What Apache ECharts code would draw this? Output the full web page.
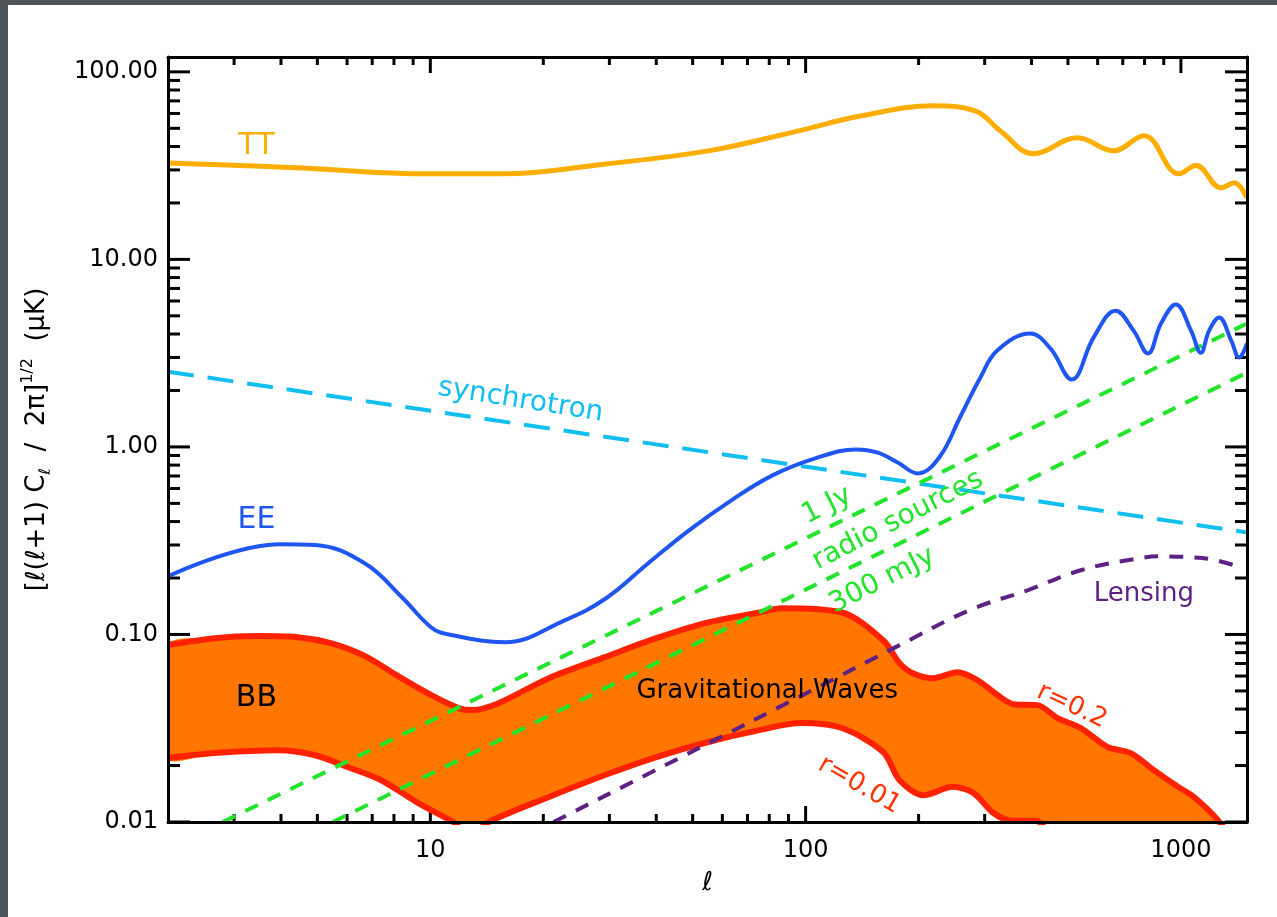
<!DOCTYPE html>
<html>
<head>
<meta charset="utf-8">
<script src="https://cdn.jsdelivr.net/npm/echarts@6/dist/echarts.min.js"></script>
<style>
  html, body { margin: 0; padding: 0; width: 1277px; height: 917px; overflow: hidden; background: #50555a; }
  #panel { position: absolute; left: 8px; top: 5px; right: 0; bottom: 0; background: #ffffff; }
  #chart { position: absolute; left: 0; top: 0; width: 1277px; height: 917px; }
</style>
</head>
<body>
<div id="panel"></div>
<div id="chart"></div>
<script>
// CMB angular power spectra, [l(l+1)C_l/2pi]^(1/2) in microkelvin, versus multipole l.

// Axis tick values
const xMajorTicks = [10, 100, 1000];
const xMinorTicks = [3, 4, 5, 6, 7, 8, 9, 20, 30, 40, 50, 60, 70, 80, 90, 200, 300, 400, 500, 600, 700, 800, 900];
const yMajorTicks = [0.01, 0.1, 1, 10, 100];
const yMinorTicks = [0.02, 0.03, 0.04, 0.05, 0.06, 0.07, 0.08, 0.09,
                     0.2, 0.3, 0.4, 0.5, 0.6, 0.7, 0.8, 0.9,
                     2, 3, 4, 5, 6, 7, 8, 9,
                     20, 30, 40, 50, 60, 70, 80, 90];

// Temperature spectrum [l, value]
const ttCurve = [[2, 32.7], [4.4, 30.8], [10, 28.6], [15.6, 28.6], [29, 32.2], [55, 37.9], [91, 47.3],
  [141, 58.3], [220, 65.9], [283, 62.0], [330, 48.5], [405, 36.6], [530, 44.5], [662, 37.9],
  [797, 45.6], [988, 28.6], [1097, 31.7], [1279, 24.1], [1387, 25.6], [1500, 21.3]];

// E-mode polarisation spectrum
const eeCurve = [[2, 0.204], [4.0, 0.303], [4.93, 0.300], [6.7, 0.239], [8.4, 0.158], [10.06, 0.109],
  [11.2, 0.100], [15.8, 0.091], [22.8, 0.119], [29.4, 0.156], [38, 0.239], [48.9, 0.359], [63.4, 0.519],
  [81.6, 0.705], [106, 0.868], [136, 0.970], [155, 0.935], [176, 0.826], [199, 0.722],
  [227, 0.879], [258, 1.44], [292, 2.34], [324, 3.27], [397, 4.02], [449, 3.35], [512, 2.29],
  [585, 3.83], [670, 5.33], [748, 4.17], [817, 3.15], [885, 4.55], [970, 5.74], [1064, 4.17],
  [1130, 3.18], [1189, 4.17], [1264, 4.90], [1362, 3.69], [1429, 3.00], [1500, 3.56]];

// Foregrounds
const synchrotron = [[2, 2.52], [1500, 0.35]];
const radio1Jy = [[2.8, 0.01], [1500, 4.55]];
const radio300mJy = [[5.5, 0.01], [1500, 2.49]];
const lensing = [[21.3, 0.01], [52, 0.0248], [96, 0.0464], [178, 0.0877], [274, 0.135], [390, 0.172],
  [541, 0.220], [749, 0.252], [885, 0.261], [1064, 0.258], [1203, 0.252], [1386, 0.234]];

// B-mode band from gravitational waves: r = 0.2 (upper) and r = 0.01 (lower)
const bbUpper = [[2, 0.0877], [2.66, 0.0955], [3.47, 0.098], [4.44, 0.0967], [5.43, 0.0898],
  [6.7, 0.0766], [8.21, 0.0599], [10.06, 0.0475], [11.9, 0.0405], [12.9, 0.0395], [15.2, 0.043],
  [20.7, 0.0585], [29.2, 0.0757], [40, 0.0955], [55, 0.116], [75.3, 0.131], [86.3, 0.138],
  [125, 0.131], [161, 0.093], [178, 0.0703], [193, 0.0622], [219, 0.0585], [254, 0.0629],
  [287, 0.057], [330, 0.0464], [357, 0.0425], [415, 0.042], [469, 0.0358], [541, 0.0317],
  [638, 0.0251], [735, 0.0233], [847, 0.0189], [982, 0.0154], [1083, 0.0136], [1256, 0.0102],
  [1500, 0.0062]];
const bbLower = [[2, 0.0219], [2.66, 0.0233], [3.92, 0.0241], [4.93, 0.0227], [6.04, 0.0196],
  [7.4, 0.0167], [9.29, 0.0126], [11.5, 0.01], [12.8, 0.0085], [14.3, 0.01], [20.7, 0.0136],
  [29.2, 0.0178], [40, 0.0222], [55, 0.0267], [75.3, 0.0309], [97.1, 0.0337], [125, 0.0317],
  [161, 0.0236], [178, 0.0167], [206, 0.0139], [247, 0.0154], [280, 0.0143], [316, 0.0112],
  [351, 0.0102], [415, 0.0101], [449, 0.008]];

// Text annotations placed in data coordinates
const annotations = [
  { text: 'TT', at: [3.44, 40.3], color: '#FFAE00', size: 30, angle: 0 },
  { text: 'EE', at: [3.44, 0.407], color: '#1F55F0', size: 30, angle: 0 },
  { text: 'BB', at: [3.44, 0.0457], color: '#000000', size: 30, angle: 0 },
  { text: 'synchrotron', at: [17.4, 1.77], color: '#10BEF0', size: 28, angle: -9 },
  { text: '1 Jy', at: [114, 0.487], color: '#22E42A', size: 28, angle: 27 },
  { text: 'radio sources', at: [176, 0.406], color: '#22E42A', size: 28, angle: 27 },
  { text: '300 mJy', at: [160, 0.194], color: '#22E42A', size: 28, angle: 27 },
  { text: 'Gravitational Waves', at: [79, 0.0499], color: '#000000', size: 26, angle: 0 },
  { text: 'Lensing', at: [797, 0.164], color: '#5E2184', size: 26, angle: 0 },
  { text: 'r=0.2', at: [512, 0.0415], color: '#FF3300', size: 26, angle: -25 },
  { text: 'r=0.01', at: [139, 0.0157], color: '#FF3300', size: 26, angle: -30 }
];

const FONT = 'DejaVu Sans';
const X_MIN = 2, X_MAX = 1500, Y_MIN = 0.01, Y_MAX = 120;

const isDecade = v => { const e = Math.log10(v); return Math.abs(e - Math.round(e)) < 1e-6; };

const tickItems = []
  .concat(xMajorTicks.map(v => ({ axis: 'x', value: v, major: true })))
  .concat(xMinorTicks.map(v => ({ axis: 'x', value: v, major: false })))
  .concat(yMajorTicks.map(v => ({ axis: 'y', value: v, major: true })))
  .concat(yMinorTicks.map(v => ({ axis: 'y', value: v, major: false })));

function renderTick(params, api) {
  const t = tickItems[params.dataIndex];
  const cs = params.coordSys;
  const style = { stroke: '#000', lineWidth: 3 };
  if (t.axis === 'x') {
    const px = api.coord([t.value, 1])[0];
    const len = t.major ? 16 : 8;
    const bottom = cs.y + cs.height;
    return { type: 'group', children: [
      { type: 'line', shape: { x1: px, y1: bottom, x2: px, y2: bottom - len }, style },
      { type: 'line', shape: { x1: px, y1: cs.y, x2: px, y2: cs.y + len }, style }
    ] };
  }
  const py = api.coord([10, t.value])[1];
  const len = t.major ? 22 : 12;
  const right = cs.x + cs.width;
  return { type: 'group', children: [
    { type: 'line', shape: { x1: cs.x, y1: py, x2: cs.x + len, y2: py }, style },
    { type: 'line', shape: { x1: right, y1: py, x2: right - len, y2: py }, style }
  ] };
}

function renderBand(params, api) {
  const pts = bbUpper.map(p => api.coord(p))
    .concat(bbLower.slice().reverse().map(p => api.coord(p)));
  return { type: 'polygon', shape: { points: pts, smooth: 0.3 }, style: { fill: '#FF7700' } };
}

function renderLabel(params, api) {
  const a = annotations[params.dataIndex];
  const p = api.coord(a.at);
  return {
    type: 'text', x: p[0], y: p[1], rotation: a.angle * Math.PI / 180,
    style: { text: a.text, fill: a.color, fontSize: a.size, fontFamily: FONT,
             align: 'center', verticalAlign: 'middle' }
  };
}

function curve(name, data, color, width, dash, z, smooth) {
  return {
    type: 'line', name, data, z, smooth: smooth, showSymbol: false, symbol: 'none',
    clip: true, silent: true,
    lineStyle: { color, width, type: dash || 'solid', cap: 'butt' }
  };
}

const axisLineStyle = { show: true, lineStyle: { color: '#000', width: 3 } };

const option = {
  animation: false,
  backgroundColor: 'transparent',
  grid: { left: 168, top: 57, right: 30, bottom: 95, containLabel: false, outerBoundsMode: 'none' },
  xAxis: [
    {
      type: 'log', logBase: 10, min: X_MIN, max: X_MAX, position: 'bottom', z: 10,
      axisLine: axisLineStyle, axisTick: { show: false }, splitLine: { show: false },
      axisLabel: { margin: 17, fontSize: 24, fontFamily: FONT, color: '#000',
                   formatter: v => isDecade(v) ? String(Math.round(v)) : '' },
      name: 'ℓ', nameLocation: 'middle', nameGap: 48,
      nameTextStyle: { fontSize: 26, fontFamily: FONT, fontStyle: 'italic', color: '#000' }
    },
    {
      type: 'log', logBase: 10, min: X_MIN, max: X_MAX, position: 'top', z: 10,
      axisLine: axisLineStyle, axisTick: { show: false }, splitLine: { show: false },
      axisLabel: { show: false }
    }
  ],
  yAxis: [
    {
      type: 'log', logBase: 10, min: Y_MIN, max: Y_MAX, position: 'left', z: 10,
      axisLine: axisLineStyle, axisTick: { show: false }, splitLine: { show: false },
      axisLabel: { margin: 10, fontSize: 24, fontFamily: FONT, color: '#000',
                   formatter: v => isDecade(v) ? v.toFixed(2) : '' },
      name: '{a|[ℓ(ℓ+1) C}{sub|ℓ}{a|  /  2π]}{sup|1/2}{a|  (μK)}',
      nameLocation: 'middle', nameRotate: 90, nameGap: 114,
      nameTextStyle: {
        color: '#000',
        rich: {
          a: { fontSize: 26, fontFamily: FONT, color: '#000', lineHeight: 34 },
          sub: { fontSize: 16, fontFamily: FONT, color: '#000', verticalAlign: 'bottom', lineHeight: 34 },
          sup: { fontSize: 16, fontFamily: FONT, color: '#000', verticalAlign: 'top', lineHeight: 34 }
        }
      }
    },
    {
      type: 'log', logBase: 10, min: Y_MIN, max: Y_MAX, position: 'right', z: 10,
      axisLine: axisLineStyle, axisTick: { show: false }, splitLine: { show: false },
      axisLabel: { show: false }
    }
  ],
  series: [
    { type: 'custom', name: 'ticks', z: 1, silent: true, clip: false,
      data: tickItems.map(t => t.axis === 'x' ? [t.value, 1] : [10, t.value]),
      renderItem: renderTick },
    { type: 'custom', name: 'BB band', z: 2, silent: true, clip: true,
      data: [[10, 0.05]], renderItem: renderBand },
    curve('BB r=0.2', bbUpper, '#FF2200', 6, null, 3, 0.3),
    curve('BB r=0.01', bbLower, '#FF2200', 6, null, 3, 0.3),
    curve('synchrotron', synchrotron, '#10BEF0', 4, [26, 14], 4, false),
    curve('1 Jy', radio1Jy, '#22E42A', 4, [14, 11], 4, false),
    curve('300 mJy', radio300mJy, '#22E42A', 4, [14, 11], 4, false),
    curve('lensing', lensing, '#5E2184', 4, [14, 11], 4, 0.4),
    curve('EE', eeCurve, '#1F55F0', 4, null, 4, 0.4),
    curve('TT', ttCurve, '#FFAE00', 5, null, 4, 0.4),
    { type: 'custom', name: 'labels', z: 6, silent: true, clip: false,
      data: annotations.map(a => a.at), renderItem: renderLabel }
  ]
};

const chart = echarts.init(document.getElementById('chart'), null, { renderer: 'canvas' });
chart.setOption(option);
</script>
</body>
</html>
